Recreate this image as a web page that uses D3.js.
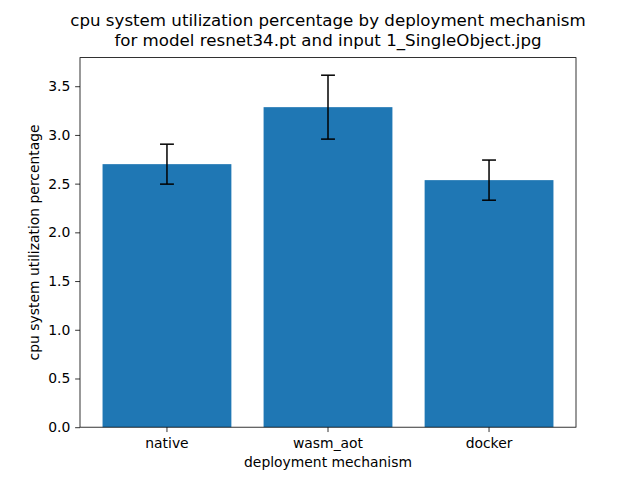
<!DOCTYPE html>
<html>
<head>
<meta charset="utf-8">
<script src="https://cdn.jsdelivr.net/npm/d3@7"></script>
<style>
  body { margin: 0; background: #fff; }
  svg { font-family: "DejaVu Sans", sans-serif; }
</style>
</head>
<body>
<div id="chart"></div>
<script>
// data
var categories = ["native", "wasm_aot", "docker"];
var means = [2.70, 3.285, 2.536];
var errs = [0.205, 0.328, 0.206];
var yTicks = [0.0, 0.5, 1.0, 1.5, 2.0, 2.5, 3.0, 3.5];

var W = 640, H = 480;
// plot box (window.top is read-only, so use other names)
var axLeft = 80, axRight = 576, axTop = 57.6, axBottom = 427.2;

var svg = d3.select("#chart").append("svg")
  .attr("width", W).attr("height", H);

var x = d3.scaleBand()
  .domain(categories)
  .range([axLeft, axRight])
  .paddingInner(0.2)
  .paddingOuter(0.14);

var ymax = d3.max(means.map(function(m, i) { return m + errs[i]; })) * 1.05;
var y = d3.scaleLinear().domain([0, ymax]).range([axBottom, axTop]);

// bars
svg.selectAll("rect.bar")
  .data(categories)
  .enter().append("rect")
  .attr("class", "bar")
  .attr("x", function(d) { return x(d); })
  .attr("y", function(d, i) { return y(means[i]); })
  .attr("width", x.bandwidth())
  .attr("height", function(d, i) { return axBottom - y(means[i]); })
  .attr("fill", "#1f77b4");

// error bars
var cap = 6.94;
var eb = svg.selectAll("g.err")
  .data(categories)
  .enter().append("g")
  .attr("class", "err")
  .attr("stroke", "#000")
  .attr("stroke-width", 1.5);
eb.append("line")
  .attr("x1", function(d) { return x(d) + x.bandwidth() / 2; })
  .attr("x2", function(d) { return x(d) + x.bandwidth() / 2; })
  .attr("y1", function(d, i) { return y(means[i] - errs[i]); })
  .attr("y2", function(d, i) { return y(means[i] + errs[i]); });
[-1, 1].forEach(function(s) {
  eb.append("line")
    .attr("x1", function(d) { return x(d) + x.bandwidth() / 2 - cap; })
    .attr("x2", function(d) { return x(d) + x.bandwidth() / 2 + cap; })
    .attr("y1", function(d, i) { return y(means[i] + s * errs[i]); })
    .attr("y2", function(d, i) { return y(means[i] + s * errs[i]); });
});

// axes
var xAxis = svg.append("g")
  .attr("transform", "translate(0," + axBottom + ")")
  .call(d3.axisBottom(x).tickSize(4.86).tickPadding(6.5));
var yAxis = svg.append("g")
  .attr("transform", "translate(" + axLeft + ",0)")
  .call(d3.axisLeft(y).tickValues(yTicks).tickFormat(d3.format(".1f")).tickSize(4.86).tickPadding(4.86));

[xAxis, yAxis].forEach(function(a) {
  a.select(".domain").remove();
  a.selectAll(".tick line").attr("stroke", "#000").attr("stroke-width", 0.8);
  a.selectAll(".tick text").attr("fill", "#000").style("font-size", "13.9px")
    .style("font-family", "DejaVu Sans");
});

// frame
svg.append("rect")
  .attr("x", axLeft).attr("y", axTop)
  .attr("width", axRight - axLeft).attr("height", axBottom - axTop)
  .attr("fill", "none").attr("stroke", "#000").attr("stroke-width", 0.8);

// labels
svg.append("text")
  .attr("x", (axLeft + axRight) / 2).attr("y", 466.5)
  .attr("text-anchor", "middle")
  .style("font-size", "13.9px")
  .text("deployment mechanism");

svg.append("text")
  .attr("transform", "translate(39," + ((axTop + axBottom) / 2) + ") rotate(-90)")
  .attr("text-anchor", "middle")
  .style("font-size", "13.9px")
  .text("cpu system utilization percentage");

var title = ["cpu system utilization percentage by deployment mechanism",
             "for model resnet34.pt and input 1_SingleObject.jpg"];
svg.selectAll("text.title")
  .data(title)
  .enter().append("text")
  .attr("class", "title")
  .attr("x", (axLeft + axRight) / 2)
  .attr("y", function(d, i) { return 26 + i * 20; })
  .attr("text-anchor", "middle")
  .style("font-size", "16.67px")
  .text(function(d) { return d; });
</script>
</body>
</html>
